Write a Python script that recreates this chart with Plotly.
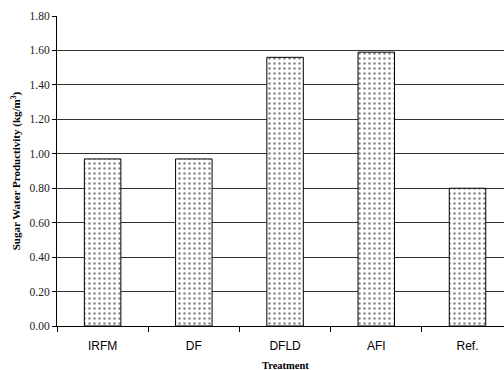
import plotly.graph_objects as go

treatments = ["IRFM", "DF", "DFLD", "AFI", "Ref."]
productivity = [0.97, 0.97, 1.56, 1.59, 0.80]
y_ticks = [0.0, 0.2, 0.4, 0.6, 0.8, 1.0, 1.2, 1.4, 1.6, 1.8]

fig = go.Figure(
    go.Bar(
        x=treatments,
        y=productivity,
        width=0.4,
        marker=dict(
            color="white",
            line=dict(color="black", width=1),
            pattern=dict(shape=".", fgcolor="#111", bgcolor="white",
                         size=5, solidity=0.2, fillmode="overlay"),
        ),
        showlegend=False,
    )
)

fig.update_layout(
    width=504, height=370,
    margin=dict(l=57, r=0, t=16, b=44),
    plot_bgcolor="white", paper_bgcolor="white",
    bargap=0.6,
    xaxis=dict(
        range=[-0.5, 4.4],
        showline=True, linecolor="black", linewidth=1,
        ticks="outside", ticklen=5, tickcolor="black", tickson="boundaries",
        tickfont=dict(family="Liberation Sans, Arial", size=12, color="black"),
        ticklabelstandoff=9,
        showgrid=False,
    ),
    yaxis=dict(
        range=[0, 1.8],
        tickvals=y_ticks,
        ticktext=[f"{v:.2f}" for v in y_ticks],
        showline=True, linecolor="black", linewidth=1,
        ticks="outside", ticklen=4, tickcolor="black",
        tickfont=dict(family="Liberation Serif, Times New Roman", size=11.5, color="#222"),
        showgrid=True, gridcolor="#333", gridwidth=1,
        zeroline=False,
        title=dict(text="<b>Sugar Water Productivity (kg/m<sup>3</sup>)</b>",
                   font=dict(family="Liberation Serif, Times New Roman", size=11, color="black"),
                   standoff=6),
    ),
    annotations=[
        dict(text="<b>Treatment</b>", xref="paper", yref="paper",
             x=(285.5 - 57) / 447, y=-0.126, yanchor="middle", showarrow=False,
             font=dict(family="Liberation Serif, Times New Roman", size=10.5, color="black")),
    ],
)

fig.write_html("out.html")
